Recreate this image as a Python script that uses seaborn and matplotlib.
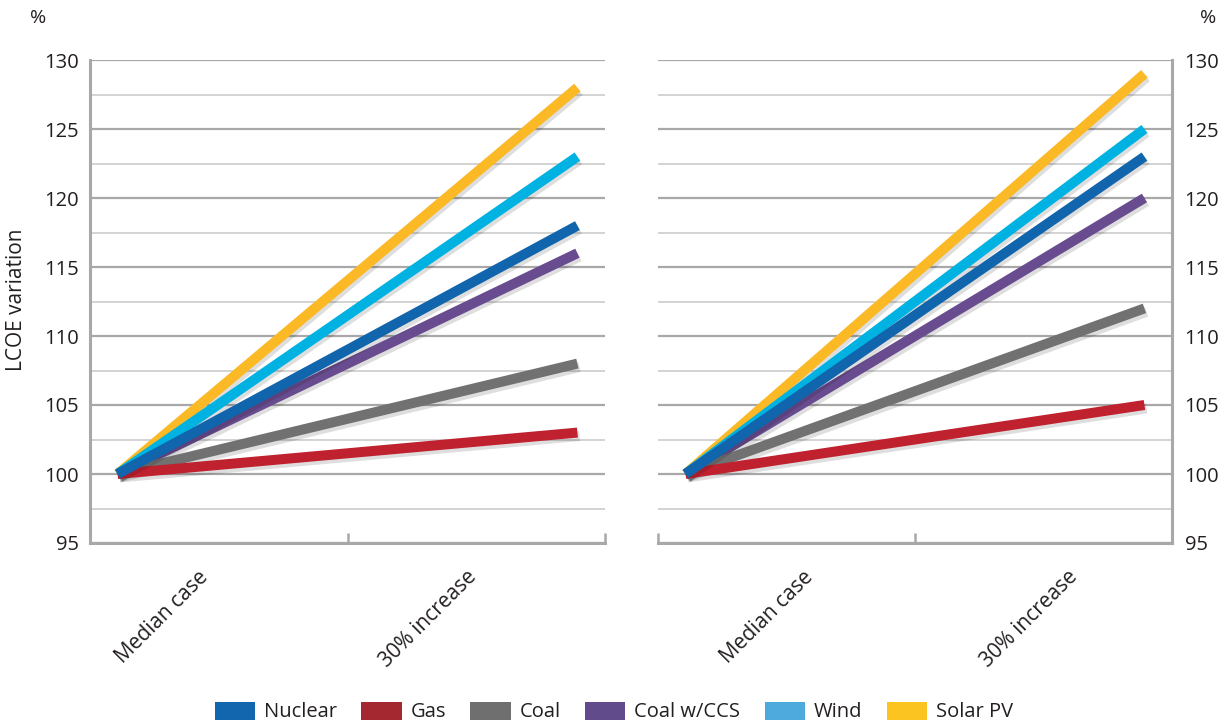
import numpy as np
import pandas as pd
import matplotlib
matplotlib.use("Agg")
import matplotlib.pyplot as plt
import matplotlib.patheffects as pe
from matplotlib.patches import Patch
import seaborn as sns


cases      = ["Median case", "30% increase"]
sources    = ["Nuclear", "Gas", "Coal", "Coal w/CCS", "Wind", "Solar PV"]
left_end   = [118, 103, 108, 116, 123, 128]
right_end  = [123, 105, 112, 120, 125, 129]
base       = 100
y_ticks    = [95, 100, 105, 110, 115, 120, 125, 130]

line_colors = {
    "Nuclear":    "#1165ad",
    "Gas":        "#c0212f",
    "Coal":       "#717171",
    "Coal w/CCS": "#694c8f",
    "Wind":       "#00b2e2",
    "Solar PV":   "#fbb926",
}
legend_colors = {
    "Nuclear":    "#1266ae",
    "Gas":        "#a3282f",
    "Coal":       "#6f6f6f",
    "Coal w/CCS": "#614b8b",
    "Wind":       "#4ea9dc",
    "Solar PV":   "#fcc420",
}

GRID_MAJOR = "#a8a8a8"
GRID_MINOR = "#d3d3d3"
TEXT = "#231f20"


def long_table(end_values):
    rows = []
    for src, end in zip(sources, end_values):
        rows.append({"source": src, "x": 0, "value": base})
        rows.append({"source": src, "x": 1, "value": end})
    return pd.DataFrame(rows)


sns.set_style("white")
plt.rcParams["font.family"] = ["Open Sans", "DejaVu Sans"]
plt.rcParams["text.color"] = TEXT

fig = plt.figure(figsize=(12.28, 7.24), dpi=100)
ax_l = fig.add_axes([90 / 1228, 1 - 543 / 724, 515 / 1228, 483 / 724])
ax_r = fig.add_axes([658 / 1228, 1 - 543 / 724, 514 / 1228, 483 / 724])

# drawing order: nuclear on top, solar at the back
draw_order = ["Solar PV", "Wind", "Coal w/CCS", "Coal", "Gas", "Nuclear"]
shadow = [pe.SimpleLineShadow(offset=(1.5, -2.5), shadow_color="k", alpha=0.13),
          pe.Normal()]

xlo, xhi = -0.06, 1.06
label_pos = {"left": [0.175, 0.758], "right": [0.256, 0.831]}

for ax, ends, side in [(ax_l, left_end, "left"), (ax_r, right_end, "right")]:
    df = long_table(ends)
    sns.lineplot(data=df, x="x", y="value", hue="source", hue_order=draw_order,
                 palette=line_colors, linewidth=7.2, legend=False, ax=ax,
                 solid_capstyle="butt", path_effects=shadow, zorder=3)

    ax.set_xlim(xlo, xhi)
    ax.set_ylim(95, 130)
    ax.set_xlabel("")
    ax.set_ylabel("")

    ax.set_yticks(y_ticks)
    ax.set_yticks(np.arange(97.5, 130, 5), minor=True)
    ax.grid(which="major", axis="y", color=GRID_MAJOR, linewidth=1.6, zorder=0)
    ax.grid(which="minor", axis="y", color=GRID_MINOR, linewidth=1.4, zorder=0)
    ax.set_axisbelow(True)

    # bottom axis: boundary ticks pointing inwards, category labels between
    ax.set_xticks([xlo, 0.5, xhi])
    ax.set_xticklabels(["", "", ""])
    ax.set_xticks(label_pos[side], minor=True)
    ax.set_xticklabels(cases, minor=True, rotation=45, ha="right",
                       rotation_mode="anchor", fontsize=15, color=TEXT)
    ax.tick_params(axis="x", which="major", direction="in", length=7,
                   width=1.8, color=GRID_MAJOR, bottom=True)
    ax.tick_params(axis="x", which="minor", length=0, pad=17)

    for s in ax.spines.values():
        s.set_color(GRID_MAJOR)
        s.set_linewidth(2.2)
    ax.spines["top"].set_visible(False)

    if side == "left":
        ax.spines["right"].set_visible(False)
        ax.tick_params(axis="y", which="both", length=0, pad=8,
                       labelsize=14.5, labelcolor=TEXT, left=False)
    else:
        ax.spines["left"].set_visible(False)
        ax.yaxis.tick_right()
        ax.tick_params(axis="y", which="both", length=0, pad=9,
                       labelsize=14.5, labelcolor=TEXT, right=False)

fig.text(38 / 1228, 1 - 18 / 724, "%", fontsize=14, ha="center", va="center")
fig.text(1208 / 1228, 1 - 18 / 724, "%", fontsize=14, ha="center", va="center")
fig.text(17 / 1228, 1 - 300 / 724, "LCOE variation", rotation=90,
         fontsize=15, ha="center", va="center")

handles = [Patch(facecolor=legend_colors[s], edgecolor="none", label=s)
           for s in sources]
fig.legend(handles=handles, loc="center", bbox_to_anchor=(0.5, 1 - 712 / 724),
           ncol=6, frameon=False, fontsize=14.5, handlelength=2.0,
           handleheight=1.0, handletextpad=0.45, columnspacing=1.2,
           borderpad=0)

plt.savefig("out.png", dpi=100)
plt.close()
